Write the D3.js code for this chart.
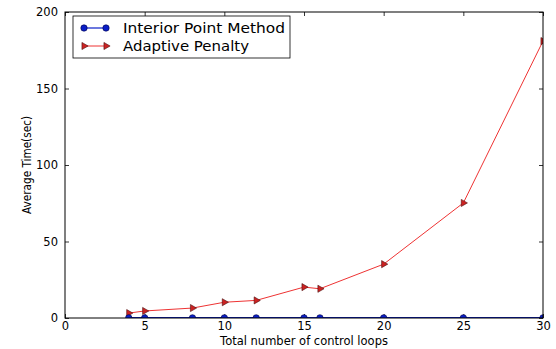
<!DOCTYPE html>
<html>
<head>
<meta charset="utf-8">
<script src="https://cdn.jsdelivr.net/npm/d3@7"></script>
<style>
  html, body { margin: 0; padding: 0; background: #fff; }
  svg { display: block; font-family: "DejaVu Sans", sans-serif; }
</style>
</head>
<body>
<svg id="chart" width="556" height="349"></svg>
<script>
// Number of control loops tested
const loops = [4, 5, 8, 10, 12, 15, 16, 20, 25, 30];
// Average solve time (sec) per method
const interiorPoint = [0.1, 0.1, 0.1, 0.1, 0.1, 0.1, 0.1, 0.1, 0.1, 0.1];
const adaptivePenalty = [3.2, 4.6, 6.5, 10.3, 11.5, 20.2, 19.1, 35.2, 75.2, 181];
const xTicks = [0, 5, 10, 15, 20, 25, 30];
const yTicks = [0, 50, 100, 150, 200];
const seriesNames = ["Interior Point Method", "Adaptive Penalty"];

const svg = d3.select("#chart");
const m = { left: 65, right: 13, top: 12, bottom: 31 };
const W = 556, H = 349;

const x = d3.scaleLinear().domain([0, 30]).range([m.left, W - m.right]);
const y = d3.scaleLinear().domain([0, 200]).range([H - m.bottom, m.top]);

const blue = "#0b1fc8", red = "#ee3333";

svg.append("defs").append("clipPath").attr("id", "plotClip")
  .append("rect")
  .attr("x", x(0)).attr("y", y(200))
  .attr("width", x(30) - x(0)).attr("height", y(0) - y(200));

// Axes with inward ticks on all four sides
const axisBottom = d3.axisBottom(x).tickValues(xTicks).tickSizeInner(-4).tickSizeOuter(0).tickPadding(4);
const axisTop = d3.axisTop(x).tickValues(xTicks).tickSizeInner(-4).tickSizeOuter(0).tickFormat("");
const axisLeft = d3.axisLeft(y).tickValues(yTicks).tickSizeInner(-4).tickSizeOuter(0).tickPadding(7);
const axisRight = d3.axisRight(y).tickValues(yTicks).tickSizeInner(-4).tickSizeOuter(0).tickFormat("");

function styleAxis(g) {
  g.select(".domain").remove();
  g.selectAll(".tick line").attr("stroke", "#000").attr("stroke-width", 0.8);
  g.selectAll(".tick text").attr("fill", "#000").attr("font-size", 11.5)
    .attr("font-family", "DejaVu Sans, sans-serif");
}

svg.append("g").attr("transform", `translate(0,${y(0)})`).call(axisBottom).call(styleAxis);
svg.append("g").attr("transform", `translate(0,${y(200)})`).call(axisTop).call(styleAxis);
svg.append("g").attr("transform", `translate(${x(0)},0)`).call(axisLeft).call(styleAxis);
svg.append("g").attr("transform", `translate(${x(30)},0)`).call(axisRight).call(styleAxis);

const plot = svg.append("g").attr("clip-path", "url(#plotClip)");

const line = d3.line().x((d, i) => x(loops[i])).y(d => y(d));

// Adaptive penalty series
plot.append("path").datum(adaptivePenalty)
  .attr("d", line).attr("fill", "none").attr("stroke", red).attr("stroke-width", 1);
const tri = d3.symbol().type(d3.symbolTriangle).size(22);
plot.selectAll(".ap").data(adaptivePenalty).join("path")
  .attr("class", "ap")
  .attr("d", tri)
  .attr("transform", (d, i) => `translate(${x(loops[i])},${y(d)}) rotate(90)`)
  .attr("fill", "#cc2222").attr("stroke", "#4a1010").attr("stroke-width", 0.6);

// Interior point series
plot.append("path").datum(interiorPoint)
  .attr("d", line).attr("fill", "none").attr("stroke", blue).attr("stroke-width", 1.6);
plot.selectAll(".ip").data(interiorPoint).join("circle")
  .attr("class", "ip")
  .attr("cx", (d, i) => x(loops[i])).attr("cy", d => y(d))
  .attr("r", 3.2).attr("fill", blue).attr("stroke", "#000044").attr("stroke-width", 0.6);

// Frame
svg.append("rect")
  .attr("x", x(0)).attr("y", y(200))
  .attr("width", x(30) - x(0)).attr("height", y(0) - y(200))
  .attr("fill", "none").attr("stroke", "#000").attr("stroke-width", 1);

// Axis titles
svg.append("text")
  .attr("x", (x(0) + x(30)) / 2).attr("y", 345)
  .attr("text-anchor", "middle").attr("font-size", 11.5)
  .text("Total number of control loops");
svg.append("text")
  .attr("transform", `translate(31,${(y(0) + y(200)) / 2}) rotate(-90)`)
  .attr("text-anchor", "middle").attr("font-size", 11.5)
  .attr("textLength", 98).attr("lengthAdjust", "spacingAndGlyphs")
  .text("Average Time(sec)");

// Legend
const lg = svg.append("g");
lg.append("rect").attr("x", 73).attr("y", 16).attr("width", 217).attr("height", 42)
  .attr("fill", "#fff").attr("stroke", "#000").attr("stroke-width", 0.8);
const rows = [
  { name: seriesNames[0], y: 28, marker: "circle", len: 162 },
  { name: seriesNames[1], y: 46, marker: "tri", len: 126 }
];
rows.forEach(r => {
  lg.append("line").attr("x1", 84).attr("x2", 106).attr("y1", r.y).attr("y2", r.y)
    .attr("stroke", r.marker === "circle" ? blue : red).attr("stroke-width", r.marker === "circle" ? 1.2 : 1);
  [84, 106].forEach(px => {
    if (r.marker === "circle") {
      lg.append("circle").attr("cx", px).attr("cy", r.y).attr("r", 3.2)
        .attr("fill", blue).attr("stroke", "#000044").attr("stroke-width", 0.6);
    } else {
      lg.append("path").attr("d", tri)
        .attr("transform", `translate(${px},${r.y}) rotate(90)`)
        .attr("fill", "#cc2222").attr("stroke", "#4a1010").attr("stroke-width", 0.6);
    }
  });
  lg.append("text").attr("x", 123).attr("y", r.y + 5)
    .attr("font-size", 14.5).attr("fill", "#000")
    .attr("textLength", r.len).attr("lengthAdjust", "spacingAndGlyphs")
    .text(r.name);
});
</script>
</body>
</html>
